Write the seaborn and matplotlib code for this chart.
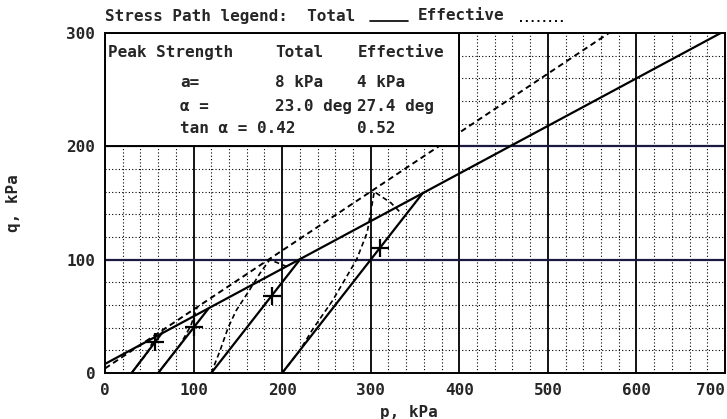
import numpy as np
import pandas as pd
import matplotlib
matplotlib.use("Agg")
import matplotlib.pyplot as plt
from matplotlib.patches import Rectangle
from matplotlib.lines import Line2D
import seaborn as sns

sns.set_style("white")
plt.rcParams['font.family'] = ['DejaVu Sans Mono', 'DejaVu Sans']
plt.rcParams['font.weight'] = 'bold'

# failure envelopes (end points)
env_total_p = [0, 700]
env_total_q = [8, 302]
env_eff_p = [0, 569]
env_eff_q = [4, 300]

# total stress paths
total_paths = {
    "T1": ([30, 65], [0, 36]),
    "T2": ([60, 117], [0, 57]),
    "T3": ([120, 221], [0, 101]),
    "T4": ([200, 359], [0, 159]),
}

# effective stress paths
eff_paths = {
    "E1": ([30, 48, 58], [0, 18, 34]),
    "E2": ([60, 85, 97, 104], [0, 25, 42, 58]),
    "E3": ([120, 130, 139, 148, 163, 175, 186, 205], [0, 20, 40, 55, 73, 88, 100, 94]),
    "E4": ([200, 220, 234, 257, 284, 296, 304, 323, 333], [0, 20, 38, 64, 100, 124, 160, 150, 142]),
}

# marked points
mark_p = [57, 101, 188, 310]
mark_q = [27, 41, 68, 110]

x_ticks = [0, 100, 200, 300, 400, 500, 600, 700]
y_ticks = [0, 100, 200, 300]

W, H = 727, 419
fig = plt.figure(figsize=(W / 100, H / 100), dpi=100)
ax = fig.add_axes([105 / W, 1 - 373 / H, 620 / W, 340 / H])

fs = 11.5

# grid: dotted every 20, solid every 100
for v in np.arange(20, 700, 20):
    if v % 100:
        ax.axvline(v, color="black", lw=0.8, ls=(0, (1, 2)), zorder=1)
for v in np.arange(20, 300, 20):
    if v % 100:
        ax.axhline(v, color="black", lw=0.8, ls=(0, (1, 2)), zorder=1)
for v in x_ticks[1:-1]:
    ax.axvline(v, color="black", lw=1.3, zorder=1)
for v in y_ticks[1:-1]:
    ax.axhline(v, color="#1a1a40", lw=1.6, zorder=1)

# envelopes
sns.lineplot(x=env_total_p, y=env_total_q, ax=ax, color="black", lw=1.6, zorder=4)
sns.lineplot(x=env_eff_p, y=env_eff_q, ax=ax, color="black", lw=1.4, zorder=4,
             linestyle=(0, (3, 2)))

for name, (p, q) in total_paths.items():
    df = pd.DataFrame({"p": p, "q": q})
    sns.lineplot(data=df, x="p", y="q", ax=ax, sort=False, color="black", lw=1.6, zorder=4)

for name, (p, q) in eff_paths.items():
    df = pd.DataFrame({"p": p, "q": q})
    sns.lineplot(data=df, x="p", y="q", ax=ax, sort=False, color="black", lw=1.2,
                 linestyle=(0, (3, 2)), zorder=4)

sns.scatterplot(x=mark_p, y=mark_q, ax=ax, marker="+", s=180, color="black",
                linewidth=1.6, zorder=5)

# legend box
ax.add_patch(Rectangle((0, 200), 400, 100, facecolor="white", edgecolor="black",
                       lw=1.4, zorder=6))
tkw = dict(fontsize=fs, fontweight="bold", va="center", ha="left", zorder=7)
ax.text(3, 283, "Peak Strength", **tkw)
ax.text(192, 283, "Total", **tkw)
ax.text(285, 283, "Effective", **tkw)
ax.text(85, 256, "a=", **tkw)
ax.text(192, 256, "8 kPa", **tkw)
ax.text(285, 256, "4 kPa", **tkw)
ax.text(85, 235, "α =", **tkw)
ax.text(192, 235, "23.0 deg", **tkw)
ax.text(285, 235, "27.4 deg", **tkw)
ax.text(85, 216, "tan α = 0.42", **tkw)
ax.text(285, 216, "0.52", **tkw)

ax.set_xlim(0, 700)
ax.set_ylim(0, 300)
ax.set_xticks(x_ticks)
ax.set_yticks(y_ticks)
ax.set_xticklabels([str(v) for v in x_ticks], fontsize=fs, fontweight="bold")
ax.set_yticklabels([str(v) for v in y_ticks], fontsize=fs, fontweight="bold")
ax.get_xticklabels()[-1].set_horizontalalignment("right")
ax.tick_params(axis="x", direction="in", length=4, pad=7)
ax.tick_params(axis="y", direction="in", length=4, pad=7)
for s in ax.spines.values():
    s.set_color("black")
    s.set_linewidth(1.4)
    s.set_zorder(8)

ax.set_xlabel("p, kPa", fontsize=fs, fontweight="bold", labelpad=0)
ax.xaxis.set_label_coords(0.49, -0.095)
ax.set_ylabel("q, kPa", fontsize=fs, fontweight="bold")
ax.yaxis.set_label_coords(-0.135, 0.5)

# title legend
fig.text(105 / W, 1 - 16 / H, "Stress Path legend:  Total", fontsize=fs,
         fontweight="bold", va="center", ha="left")
fig.add_artist(Line2D([370 / W, 408 / W], [1 - 21 / H, 1 - 21 / H], color="black", lw=1.2))
fig.text(418 / W, 1 - 16 / H, "Effective", fontsize=fs, fontweight="bold",
         va="center", ha="left")
fig.add_artist(Line2D([520 / W, 566 / W], [1 - 21 / H, 1 - 21 / H], color="black", lw=1.4,
                      ls=(0, (1, 2))))

fig.savefig("out.png", dpi=100)
